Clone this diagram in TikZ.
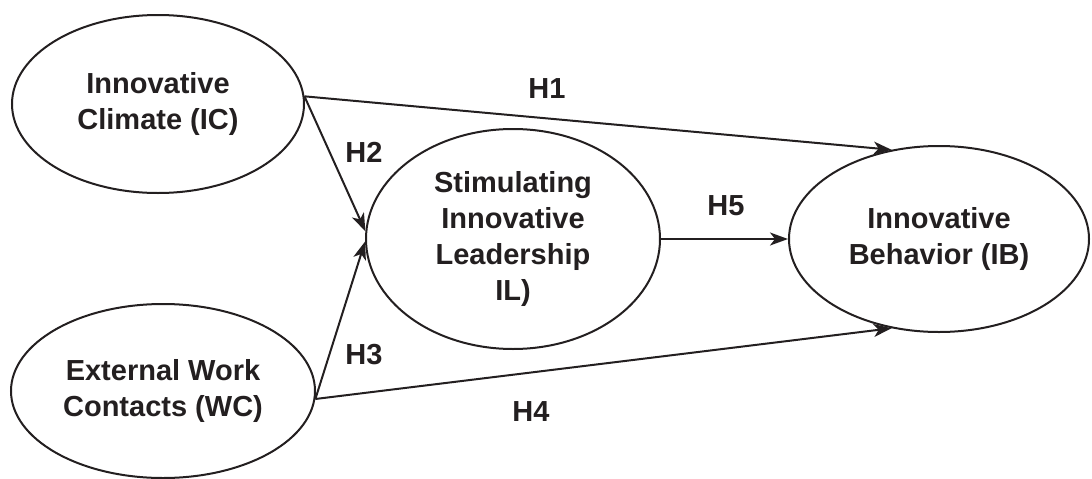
\documentclass[tikz,border=0pt]{standalone}
\usepackage{fontspec}
\setmainfont{Liberation Sans}
\usetikzlibrary{shapes.geometric,arrows.meta}
\definecolor{ink}{HTML}{231F20}
\begin{document}
\begin{tikzpicture}[x=1pt,y=-1pt,
  latent/.style={ellipse, draw=ink, line width=2pt, inner sep=0pt,
    align=center, text=ink, font=\fontsize{29}{36}\selectfont\bfseries},
  path/.style={draw=ink, line width=2pt,
    -{Stealth[length=18pt,width=13pt,inset=5pt]}},
  hyp/.style={text=ink, font=\fontsize{29}{34}\selectfont\bfseries, inner sep=0pt}]
  \useasboundingbox (0,0) rectangle (1092,479);

  % constructs
  \node[latent, minimum width=292pt, minimum height=178pt] (IC) at (158,104) {Innovative\\Climate (IC)};
  \node[latent, minimum width=304pt, minimum height=174pt] (WC) at (163,391) {External Work\\Contacts (WC)};
  \node[latent, minimum width=294pt, minimum height=220pt] (IL) at (513,239) {Stimulating\\Innovative\\Leadership\\IL)};
  \node[latent, minimum width=300pt, minimum height=186pt] (IB) at (939,239) {Innovative\\Behavior (IB)};

  % hypothesised paths
  \draw[path] (IC.3) -- (IB.118);
  \draw[path] (IC.3) -- (IL.177);
  \draw[path] (WC.-3) -- (IL.181);
  \draw[path] (WC.-3) -- (IB.242);
  \draw[path] (IL.east) -- (IB.west);

  % path labels
  \node[hyp] (h1) at (547,89) {H1};
  \node[hyp] (h2) at (364,152) {H2};
  \node[hyp] (h3) at (364,355) {H3};
  \node[hyp] (h4) at (531,412) {H4};
  \node[hyp] (h5) at (726,206) {H5};
\end{tikzpicture}
\end{document}
